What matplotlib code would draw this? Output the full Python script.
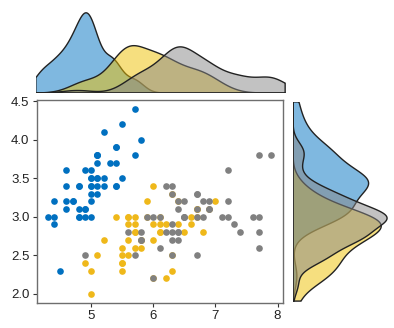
import numpy as np
import matplotlib
matplotlib.use('Agg')
import matplotlib.pyplot as plt

plt.rcParams['font.family'] = ['Liberation Sans', 'DejaVu Sans']

# iris: sepal length / sepal width per species
setosa_len = [5.1, 4.9, 4.7, 4.6, 5.0, 5.4, 4.6, 5.0, 4.4, 4.9, 5.4, 4.8, 4.8, 4.3, 5.8, 5.7, 5.4,
              5.1, 5.7, 5.1, 5.4, 5.1, 4.6, 5.1, 4.8, 5.0, 5.0, 5.2, 5.2, 4.7, 4.8, 5.4, 5.2, 5.5,
              4.9, 5.0, 5.5, 4.9, 4.4, 5.1, 5.0, 4.5, 4.4, 5.0, 5.1, 4.8, 5.1, 4.6, 5.3, 5.0]
setosa_wid = [3.5, 3.0, 3.2, 3.1, 3.6, 3.9, 3.4, 3.4, 2.9, 3.1, 3.7, 3.4, 3.0, 3.0, 4.0, 4.4, 3.9,
              3.5, 3.8, 3.8, 3.4, 3.7, 3.6, 3.3, 3.4, 3.0, 3.4, 3.5, 3.4, 3.2, 3.1, 3.4, 4.1, 4.2,
              3.1, 3.2, 3.5, 3.6, 3.0, 3.4, 3.5, 2.3, 3.2, 3.5, 3.8, 3.0, 3.8, 3.2, 3.7, 3.3]
versi_len = [7.0, 6.4, 6.9, 5.5, 6.5, 5.7, 6.3, 4.9, 6.6, 5.2, 5.0, 5.9, 6.0, 6.1, 5.6, 6.7, 5.6,
             5.8, 6.2, 5.6, 5.9, 6.1, 6.3, 6.1, 6.4, 6.6, 6.8, 6.7, 6.0, 5.7, 5.5, 5.5, 5.8, 6.0,
             5.4, 6.0, 6.7, 6.3, 5.6, 5.5, 5.5, 6.1, 5.8, 5.0, 5.6, 5.7, 5.7, 6.2, 5.1, 5.7]
versi_wid = [3.2, 3.2, 3.1, 2.3, 2.8, 2.8, 3.3, 2.4, 2.9, 2.7, 2.0, 3.0, 2.2, 2.9, 2.9, 3.1, 3.0,
             2.7, 2.2, 2.5, 3.2, 2.8, 2.5, 2.8, 2.9, 3.0, 2.8, 3.0, 2.9, 2.6, 2.4, 2.4, 2.7, 2.7,
             3.0, 3.4, 3.1, 2.3, 3.0, 2.5, 2.6, 3.0, 2.6, 2.3, 2.7, 3.0, 2.9, 2.9, 2.5, 2.8]
virg_len = [6.3, 5.8, 7.1, 6.3, 6.5, 7.6, 4.9, 7.3, 6.7, 7.2, 6.5, 6.4, 6.8, 5.7, 5.8, 6.4, 6.5,
            7.7, 7.7, 6.0, 6.9, 5.6, 7.7, 6.3, 6.7, 7.2, 6.2, 6.1, 6.4, 7.2, 7.4, 7.9, 6.4, 6.3,
            6.1, 7.7, 6.3, 6.4, 6.0, 6.9, 6.7, 6.9, 5.8, 6.8, 6.7, 6.7, 6.3, 6.5, 6.2, 5.9]
virg_wid = [3.3, 2.7, 3.0, 2.9, 3.0, 3.0, 2.5, 2.9, 2.5, 3.6, 3.2, 2.7, 3.0, 2.5, 2.8, 3.2, 3.0,
            3.8, 2.6, 2.2, 3.2, 2.8, 2.8, 2.7, 3.3, 3.2, 2.8, 3.0, 2.8, 3.0, 2.8, 3.8, 2.8, 2.8,
            2.6, 3.0, 3.4, 3.1, 3.0, 3.1, 3.1, 3.1, 2.7, 3.2, 3.3, 3.0, 2.5, 3.0, 3.4, 3.0]

groups = [(setosa_len, setosa_wid), (versi_len, versi_wid), (virg_len, virg_wid)]
colors = ['#0073C2', '#EFC000', '#868686']
dot_colors = ['#0070C0', '#EFB81A', '#808080']


def bw_nrd0(x):
    x = np.asarray(x)
    sd = x.std(ddof=1)
    iqr = np.subtract(*np.percentile(x, [75, 25]))
    return 0.9 * min(sd, iqr / 1.34) * len(x) ** -0.2


def kde(x, grid):
    x = np.asarray(x)
    h = bw_nrd0(x)
    z = (grid[:, None] - x[None, :]) / h
    return np.exp(-0.5 * z ** 2).sum(axis=1) / (len(x) * h * np.sqrt(2 * np.pi))


W, H = 394, 328
fig = plt.figure(figsize=(W / 100, H / 100), dpi=100)


def box(l, t, r, b):
    return [l / W, 1 - b / H, (r - l) / W, (b - t) / H]


ax = fig.add_axes(box(36.5, 99.5, 282.5, 303))
ax_top = fig.add_axes(box(35.5, 12, 285.5, 93))
ax_right = fig.add_axes(box(293, 101.5, 388, 301.5))

for (xl, yw), c in zip(groups, dot_colors):
    ax.scatter(xl, yw, s=23, color=c, linewidths=0, zorder=3)

ax.set_xlim(4.12, 8.08)
ax.set_ylim(1.88, 4.52)
ax.set_xticks([5, 6, 7, 8])
ax.set_yticks([2.0, 2.5, 3.0, 3.5, 4.0, 4.5])
ax.set_yticklabels(['2.0', '2.5', '3.0', '3.5', '4.0', '4.5'])
for s in ax.spines.values():
    s.set_color('#6e6e6e')
    s.set_linewidth(1.0)
ax.tick_params(length=3, width=0.8, color='#333333', labelsize=9.5, labelcolor='#222222', pad=2)

# marginal densities on common grid over full range
all_len = np.concatenate([g[0] for g in groups])
all_wid = np.concatenate([g[1] for g in groups])
gx = np.linspace(all_len.min(), all_len.max(), 512)
gy = np.linspace(all_wid.min(), all_wid.max(), 512)

dmax_x = 0
dmax_y = 0
for (xl, yw), c in zip(groups, colors):
    dx = kde(xl, gx)
    dy = kde(yw, gy)
    dmax_x = max(dmax_x, dx.max())
    dmax_y = max(dmax_y, dy.max())
    ax_top.fill(np.r_[gx[0], gx, gx[-1]], np.r_[0, dx, 0], facecolor=c, alpha=0.5,
                edgecolor='none')
    ax_top.fill(np.r_[gx[0], gx, gx[-1]], np.r_[0, dx, 0], facecolor='none',
                edgecolor='#222222', linewidth=1.0)
    ax_right.fill(np.r_[0, dy, 0], np.r_[gy[0], gy, gy[-1]], facecolor=c, alpha=0.5,
                  edgecolor='none')
    ax_right.fill(np.r_[0, dy, 0], np.r_[gy[0], gy, gy[-1]], facecolor='none',
                  edgecolor='#222222', linewidth=1.0)

ax_top.set_xlim(gx[0] - 0.005, gx[-1] + 0.005)
ax_top.set_ylim(0, dmax_x * 1.01)
ax_right.set_ylim(gy[0] - 0.005, gy[-1] + 0.005)
ax_right.set_xlim(0, dmax_y * 1.01)
for a in (ax_top, ax_right):
    a.axis('off')

fig.savefig('out.png', dpi=100)
